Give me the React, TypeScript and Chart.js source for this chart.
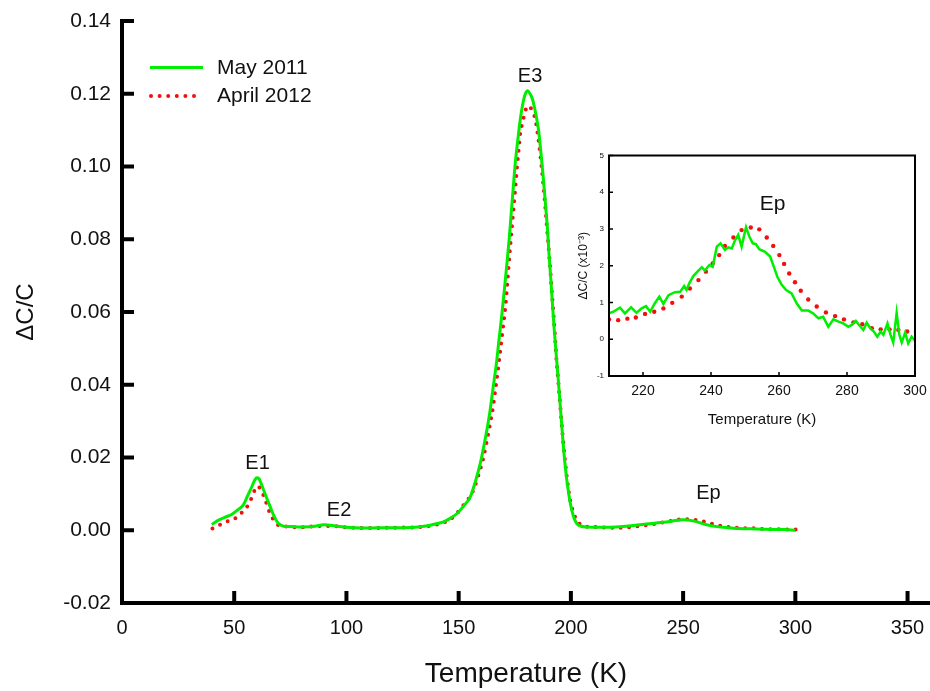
import React, { useEffect, useRef } from "react";
import { Chart, registerables } from "chart.js";

Chart.register(...registerables);

// ---------- data ----------
const seriesNames = ["May 2011", "April 2012"];

const mainXTicks = [0, 50, 100, 150, 200, 250, 300, 350];
const mainYTicks = [-0.02, 0, 0.02, 0.04, 0.06, 0.08, 0.1, 0.12, 0.14];

const may2011T = [
  40, 43, 46, 49, 52, 54, 56, 57.5, 59, 60, 61, 62, 63, 64.5, 66, 67.5, 69, 70.5, 72, 75, 80, 85, 90, 95, 100, 107,
  115, 125, 132, 137.4, 140, 143.3, 146, 149.3, 152, 155.2, 157.5, 159.6, 161.8, 163.8, 165.3, 166.8, 168, 169.3,
  170.5, 171.5, 172.5, 173.4, 174.3, 175.2, 176.3, 177.4, 178.5, 179.6, 180.7, 181.8, 182.6, 183.4, 184.5, 185.6,
  186.7, 187.8, 188.7, 189.6, 190.3, 191.1, 191.8, 192.6, 193.5, 194.4, 195.3, 196.1, 197.1, 198.2, 199.3, 200.4,
  201.5, 202.7, 204.5, 207.1, 212, 220, 228, 235, 240, 245, 250, 255, 260, 265, 270, 275, 280, 285, 290, 295, 300,
];
const may2011V = [
  0.0016, 0.0028, 0.0036, 0.0044, 0.0058, 0.0069, 0.0095, 0.0115, 0.0136, 0.0144, 0.0142, 0.0128, 0.0112, 0.0088,
  0.0065, 0.0042, 0.0024, 0.0015, 0.0011, 0.001, 0.0009, 0.001, 0.0015, 0.0012, 0.0008, 0.0006, 0.0007, 0.0007,
  0.0009, 0.0014, 0.0018, 0.0023, 0.0032, 0.0046, 0.0065, 0.0092, 0.0135, 0.0183, 0.025, 0.0321, 0.039, 0.0458,
  0.0525, 0.0596, 0.067, 0.0733, 0.08, 0.0871, 0.094, 0.1008, 0.107, 0.1127, 0.117, 0.1198, 0.1208, 0.12, 0.119,
  0.1173, 0.114, 0.11, 0.1035, 0.0962, 0.0895, 0.0825, 0.0755, 0.0687, 0.062, 0.055, 0.048, 0.0412, 0.034, 0.0275,
  0.02, 0.0137, 0.009, 0.0055, 0.0032, 0.0018, 0.0011, 0.0009, 0.0008, 0.0009, 0.0013, 0.0018, 0.0021, 0.0025,
  0.0029, 0.0025, 0.0016, 0.001, 0.0007, 0.0005, 0.0004, 0.0003, 0.0002, 0.0002, 0.0,
];

const april2012T = [
  40.3, 44, 47.5, 51, 54, 56.8, 58.6, 60.4, 62.4, 63.9, 65.2, 66.9, 68.3, 69.7, 73.6, 80, 88, 93, 100, 110, 120, 130,
  138.7, 142, 145.5, 148.5, 151.5, 153.8, 155.9, 158.5, 161.1, 163.3, 165.3, 166.8, 168.2, 169.5, 170.8, 171.8, 172.7,
  173.6, 174.5, 175.3, 176, 176.7, 177.4, 178.4, 179.4, 180.7, 181.8, 183, 184.1, 185.2, 186.3, 187.5, 188.6, 189.5,
  190.4, 191.2, 192, 192.8, 193.5, 194.4, 195.3, 196.2, 197.2, 198.4, 199.7, 201.2, 202.7, 205.6, 210, 220, 226, 231,
  236, 240.5, 244, 249, 252, 256, 260, 264, 268, 272, 277, 282, 287, 292, 297, 302,
];
const april2012V = [
  0.0005, 0.0016, 0.0026, 0.0035, 0.0053, 0.0075, 0.0103, 0.0121, 0.0105, 0.0082, 0.0058, 0.0035, 0.0022, 0.0014,
  0.001, 0.0008, 0.0012, 0.0012, 0.0008, 0.0006, 0.0007, 0.0008, 0.0014, 0.0019, 0.0027, 0.0042, 0.0064, 0.0082,
  0.0101, 0.0145, 0.0202, 0.027, 0.0339, 0.0408, 0.0476, 0.0545, 0.0614, 0.0688, 0.0761, 0.0825, 0.0889, 0.0945,
  0.0999, 0.1045, 0.109, 0.112, 0.1146, 0.1166, 0.1164, 0.1148, 0.1132, 0.109, 0.1036, 0.0965, 0.0889, 0.082, 0.0751,
  0.0683, 0.0614, 0.0545, 0.0476, 0.0408, 0.0339, 0.027, 0.0202, 0.0135, 0.0082, 0.0047, 0.0027, 0.0011, 0.0009,
  0.0007, 0.0008, 0.0012, 0.0016, 0.0021, 0.0025, 0.003, 0.003, 0.0028, 0.0023, 0.0016, 0.0011, 0.0008, 0.0006,
  0.0005, 0.0003, 0.0003, 0.0002, 0.0002,
];

const peakNames = ["E1", "E2", "E3", "Ep"];
const peakT = [60.4, 96.7, 181.8, 261.3];
const peakV = [0.0183, 0.0054, 0.1248, 0.0102];

// inset (values in units of 1e-3)
const insetXTicks = [220, 240, 260, 280, 300];
const insetYTicks = [-1, 0, 1, 2, 3, 4, 5];

const insetMayT = [
  210, 211.3, 213.2, 214.7, 216.5, 218.1, 219.6, 220.9, 222.1, 223.5, 224.8, 226, 227.5, 229.4, 230.9, 232.1, 232.8,
  233.6, 234.8, 236.3, 237.3, 238.2, 239.5, 240.5, 241.7, 242.8, 244.1, 245.1, 246.1, 247.1, 248, 249, 250.3, 251.3,
  252.3, 253.2, 254.2, 255.9, 257.4, 258.5, 259.5, 260.8, 262.1, 263.7, 265.2, 266.7, 268.6, 270.1, 271.6, 273,
  274.5, 276, 277.5, 278.9, 280.4, 281.4, 282.6, 283.8, 284.8, 285.8, 286.8, 287.9, 288.9, 289.9, 290.7, 291.9,
  292.8, 293.6, 294.6, 295.4, 296.1, 297.1, 298, 299, 300,
];
const insetMayV = [
  0.705, 0.75, 0.86, 0.705, 0.87, 0.72, 0.84, 0.9, 0.75, 0.98, 1.16, 0.96, 1.2, 1.28, 1.29, 1.45, 1.34, 1.52, 1.72,
  1.87, 1.96, 1.87, 2.02, 1.97, 2.52, 2.61, 2.43, 2.5, 2.47, 2.7, 2.84, 2.52, 3.05, 2.79, 2.61, 2.59, 2.45, 2.38,
  2.25, 1.97, 1.7, 1.48, 1.34, 1.25, 0.98, 0.78, 0.78, 0.7, 0.57, 0.61, 0.34, 0.54, 0.48, 0.43, 0.34, 0.39, 0.5,
  0.36, 0.25, 0.45, 0.3, 0.21, 0.07, 0.21, 0.12, 0.43, 0.12, -0.09, 0.72, 0.12, -0.09, 0.18, -0.11, 0.07, -0.04,
];

const insetAprT = [
  210, 212.7, 215.4, 217.9, 220.6, 223.3, 226, 228.6, 231.4, 233.8, 236.3, 238.5, 240.5, 242.4, 244.1, 246.6, 249,
  251.7, 254.2, 256.4, 258.3, 260.1, 261.5, 263, 264.7, 266.4, 268.6, 271.1, 273.8, 276.5, 279.1, 281.9, 284.5,
  287.3, 289.9, 292.5, 295.1, 297.7, 300.3,
];
const insetAprV = [
  0.54, 0.52, 0.56, 0.59, 0.69, 0.75, 0.84, 0.99, 1.16, 1.38, 1.61, 1.84, 2.06, 2.29, 2.54, 2.77, 2.97, 3.04, 2.99,
  2.77, 2.54, 2.29, 2.05, 1.79, 1.55, 1.32, 1.08, 0.89, 0.73, 0.63, 0.54, 0.46, 0.41, 0.3, 0.27, 0.27, 0.25, 0.21,
  0.21,
];
const insetPeakName = "Ep";
const insetPeakT = 258.1;
const insetPeakV = 3.68;

// ---------- styles ----------
const FONT = "'Liberation Sans', Arial, sans-serif";
const GREEN = "#00ee00";
const RED = "#f01010";
const TEXT = "#111111";

const zip = (xs: number[], ys: number[]) => xs.map((x, i) => ({ x, y: ys[i] }));

export default function App() {
  const mainRef = useRef<HTMLCanvasElement>(null);
  const insetRef = useRef<HTMLCanvasElement>(null);

  useEffect(() => {
    const mainDecor = {
      id: "mainDecor",
      afterDraw(chart: any) {
        const { ctx, chartArea, scales } = chart;
        const { left, bottom } = chartArea;
        const x = scales.x;
        const y = scales.y;
        ctx.save();
        ctx.strokeStyle = "#000";
        ctx.lineWidth = 4;
        ctx.lineCap = "butt";
        mainXTicks.forEach((t) => {
          const px = x.getPixelForValue(t);
          ctx.beginPath();
          ctx.moveTo(px, bottom);
          ctx.lineTo(px, bottom - 12);
          ctx.stroke();
        });
        mainYTicks.forEach((v) => {
          const py = y.getPixelForValue(v);
          ctx.beginPath();
          ctx.moveTo(left, py);
          ctx.lineTo(left + 12, py);
          ctx.stroke();
        });
        // legend
        ctx.strokeStyle = GREEN;
        ctx.lineWidth = 3;
        ctx.beginPath();
        ctx.moveTo(left + 28, 67.5);
        ctx.lineTo(left + 81, 67.5);
        ctx.stroke();
        ctx.fillStyle = RED;
        for (let i = 0; i < 6; i++) {
          ctx.beginPath();
          ctx.arc(left + 29 + i * 8.6, 96, 2, 0, Math.PI * 2);
          ctx.fill();
        }
        ctx.fillStyle = TEXT;
        ctx.font = `21px ${FONT}`;
        ctx.textBaseline = "middle";
        ctx.textAlign = "left";
        ctx.fillText(seriesNames[0], left + 95, 68.5);
        ctx.fillText(seriesNames[1], left + 95, 96.5);
        // peak labels
        ctx.font = `20px ${FONT}`;
        ctx.textAlign = "center";
        peakNames.forEach((n, i) => {
          ctx.fillText(n, x.getPixelForValue(peakT[i]), y.getPixelForValue(peakV[i]));
        });
        ctx.restore();
      },
    };

    const main = new Chart(mainRef.current!, {
      type: "line",
      data: {
        datasets: [
          {
            label: seriesNames[0],
            data: zip(may2011T, may2011V),
            borderColor: GREEN,
            borderWidth: 3,
            pointRadius: 0,
            cubicInterpolationMode: "monotone",
            fill: false,
          },
          {
            label: seriesNames[1],
            data: zip(april2012T, april2012V),
            borderColor: RED,
            borderWidth: 4,
            borderDash: [0, 8.4],
            borderCapStyle: "round",
            pointRadius: 0,
            cubicInterpolationMode: "monotone",
            fill: false,
          },
        ],
      },
      options: {
        animation: false,
        responsive: false,
        devicePixelRatio: 1,
        layout: { padding: { top: 21, right: 0, left: 0, bottom: 0 } },
        plugins: { legend: { display: false }, tooltip: { enabled: false } },
        scales: {
          x: {
            type: "linear",
            min: 0,
            max: 360,
            grid: { display: false, drawTicks: false },
            border: { display: true, color: "#000", width: 4 },
            afterBuildTicks: (s: any) => {
              s.ticks = mainXTicks.map((v) => ({ value: v }));
            },
            afterFit: (s: any) => {
              s.height = 88;
              s.paddingLeft = 0;
              s.paddingRight = 0;
            },
            ticks: {
              padding: 13,
              color: TEXT,
              font: { family: FONT, size: 20 },
              maxRotation: 0,
              autoSkip: false,
              callback: (v: any) => String(v),
            },
            title: {
              display: true,
              text: "Temperature (K)",
              color: TEXT,
              font: { family: FONT, size: 28 },
              padding: { top: 0, bottom: 0 },
            },
          },
          y: {
            type: "linear",
            min: -0.02,
            max: 0.14,
            grid: { display: false, drawTicks: false },
            border: { display: true, color: "#000", width: 4 },
            afterBuildTicks: (s: any) => {
              s.ticks = mainYTicks.map((v) => ({ value: v }));
            },
            afterFit: (s: any) => {
              s.width = 122;
              s.paddingTop = 0;
              s.paddingBottom = 0;
            },
            ticks: {
              padding: 11,
              color: TEXT,
              font: { family: FONT, size: 21 },
              autoSkip: false,
              callback: (v: any) => Number(v).toFixed(2),
            },
            title: {
              display: true,
              text: "ΔC/C",
              color: TEXT,
              font: { family: FONT, size: 24 },
              padding: { top: 12, bottom: 0 },
            },
          },
        },
      },
      plugins: [mainDecor],
    } as any);

    const insetDecor = {
      id: "insetDecor",
      afterDraw(chart: any) {
        const { ctx, chartArea, scales } = chart;
        const { left, top, right, bottom } = chartArea;
        const x = scales.x;
        const y = scales.y;
        ctx.save();
        ctx.strokeStyle = "#000";
        ctx.lineWidth = 2;
        ctx.strokeRect(left, top, right - left, bottom - top);
        ctx.lineWidth = 1.5;
        insetXTicks.forEach((t) => {
          const px = x.getPixelForValue(t);
          ctx.beginPath();
          ctx.moveTo(px, bottom);
          ctx.lineTo(px, bottom - 4);
          ctx.stroke();
        });
        insetYTicks.forEach((v) => {
          const py = y.getPixelForValue(v);
          ctx.beginPath();
          ctx.moveTo(left, py);
          ctx.lineTo(left + 4, py);
          ctx.stroke();
        });
        ctx.fillStyle = TEXT;
        ctx.font = `21px ${FONT}`;
        ctx.textAlign = "center";
        ctx.textBaseline = "middle";
        ctx.fillText(insetPeakName, x.getPixelForValue(insetPeakT), y.getPixelForValue(insetPeakV));
        ctx.restore();
      },
    };

    const inset = new Chart(insetRef.current!, {
      type: "line",
      data: {
        datasets: [
          {
            label: seriesNames[0],
            data: zip(insetMayT, insetMayV),
            borderColor: GREEN,
            borderWidth: 2.5,
            pointRadius: 0,
            tension: 0,
            fill: false,
          },
          {
            label: seriesNames[1],
            data: zip(insetAprT, insetAprV),
            showLine: false,
            borderColor: RED,
            backgroundColor: RED,
            pointRadius: 2.2,
            pointBorderWidth: 0,
            fill: false,
          },
        ],
      },
      options: {
        animation: false,
        responsive: false,
        devicePixelRatio: 1,
        layout: { padding: { top: 15.5, right: 15, left: 0, bottom: 0 } },
        plugins: { legend: { display: false }, tooltip: { enabled: false } },
        scales: {
          x: {
            type: "linear",
            min: 210,
            max: 300,
            grid: { display: false, drawTicks: false },
            border: { display: false },
            afterBuildTicks: (s: any) => {
              s.ticks = insetXTicks.map((v) => ({ value: v }));
            },
            afterFit: (s: any) => {
              s.height = 64;
              s.paddingLeft = 0;
              s.paddingRight = 0;
            },
            ticks: {
              padding: 7,
              color: TEXT,
              font: { family: FONT, size: 14 },
              maxRotation: 0,
              autoSkip: false,
            },
            title: {
              display: true,
              text: "Temperature (K)",
              color: TEXT,
              font: { family: FONT, size: 15 },
              padding: { top: 0, bottom: 11 },
            },
          },
          y: {
            type: "linear",
            min: -1,
            max: 5,
            grid: { display: false, drawTicks: false },
            border: { display: false },
            afterBuildTicks: (s: any) => {
              s.ticks = insetYTicks.map((v) => ({ value: v }));
            },
            afterFit: (s: any) => {
              s.width = 54;
              s.paddingTop = 0;
              s.paddingBottom = 0;
            },
            ticks: {
              padding: 5,
              color: TEXT,
              font: { family: FONT, size: 8 },
              autoSkip: false,
            },
            title: {
              display: true,
              text: "ΔC/C (x10⁻³)",
              color: TEXT,
              font: { family: FONT, size: 12 },
              padding: { top: 21, bottom: 0 },
            },
          },
        },
      },
      plugins: [insetDecor],
    } as any);

    return () => {
      main.destroy();
      inset.destroy();
    };
  }, []);

  return (
    <div style={{ position: "absolute", left: 0, top: 0, width: 930, height: 691, background: "#fff" }}>
      <canvas ref={mainRef} width={930} height={691} style={{ position: "absolute", left: 0, top: 0 }} />
      <canvas ref={insetRef} width={375} height={300} style={{ position: "absolute", left: 555, top: 140 }} />
    </div>
  );
}
